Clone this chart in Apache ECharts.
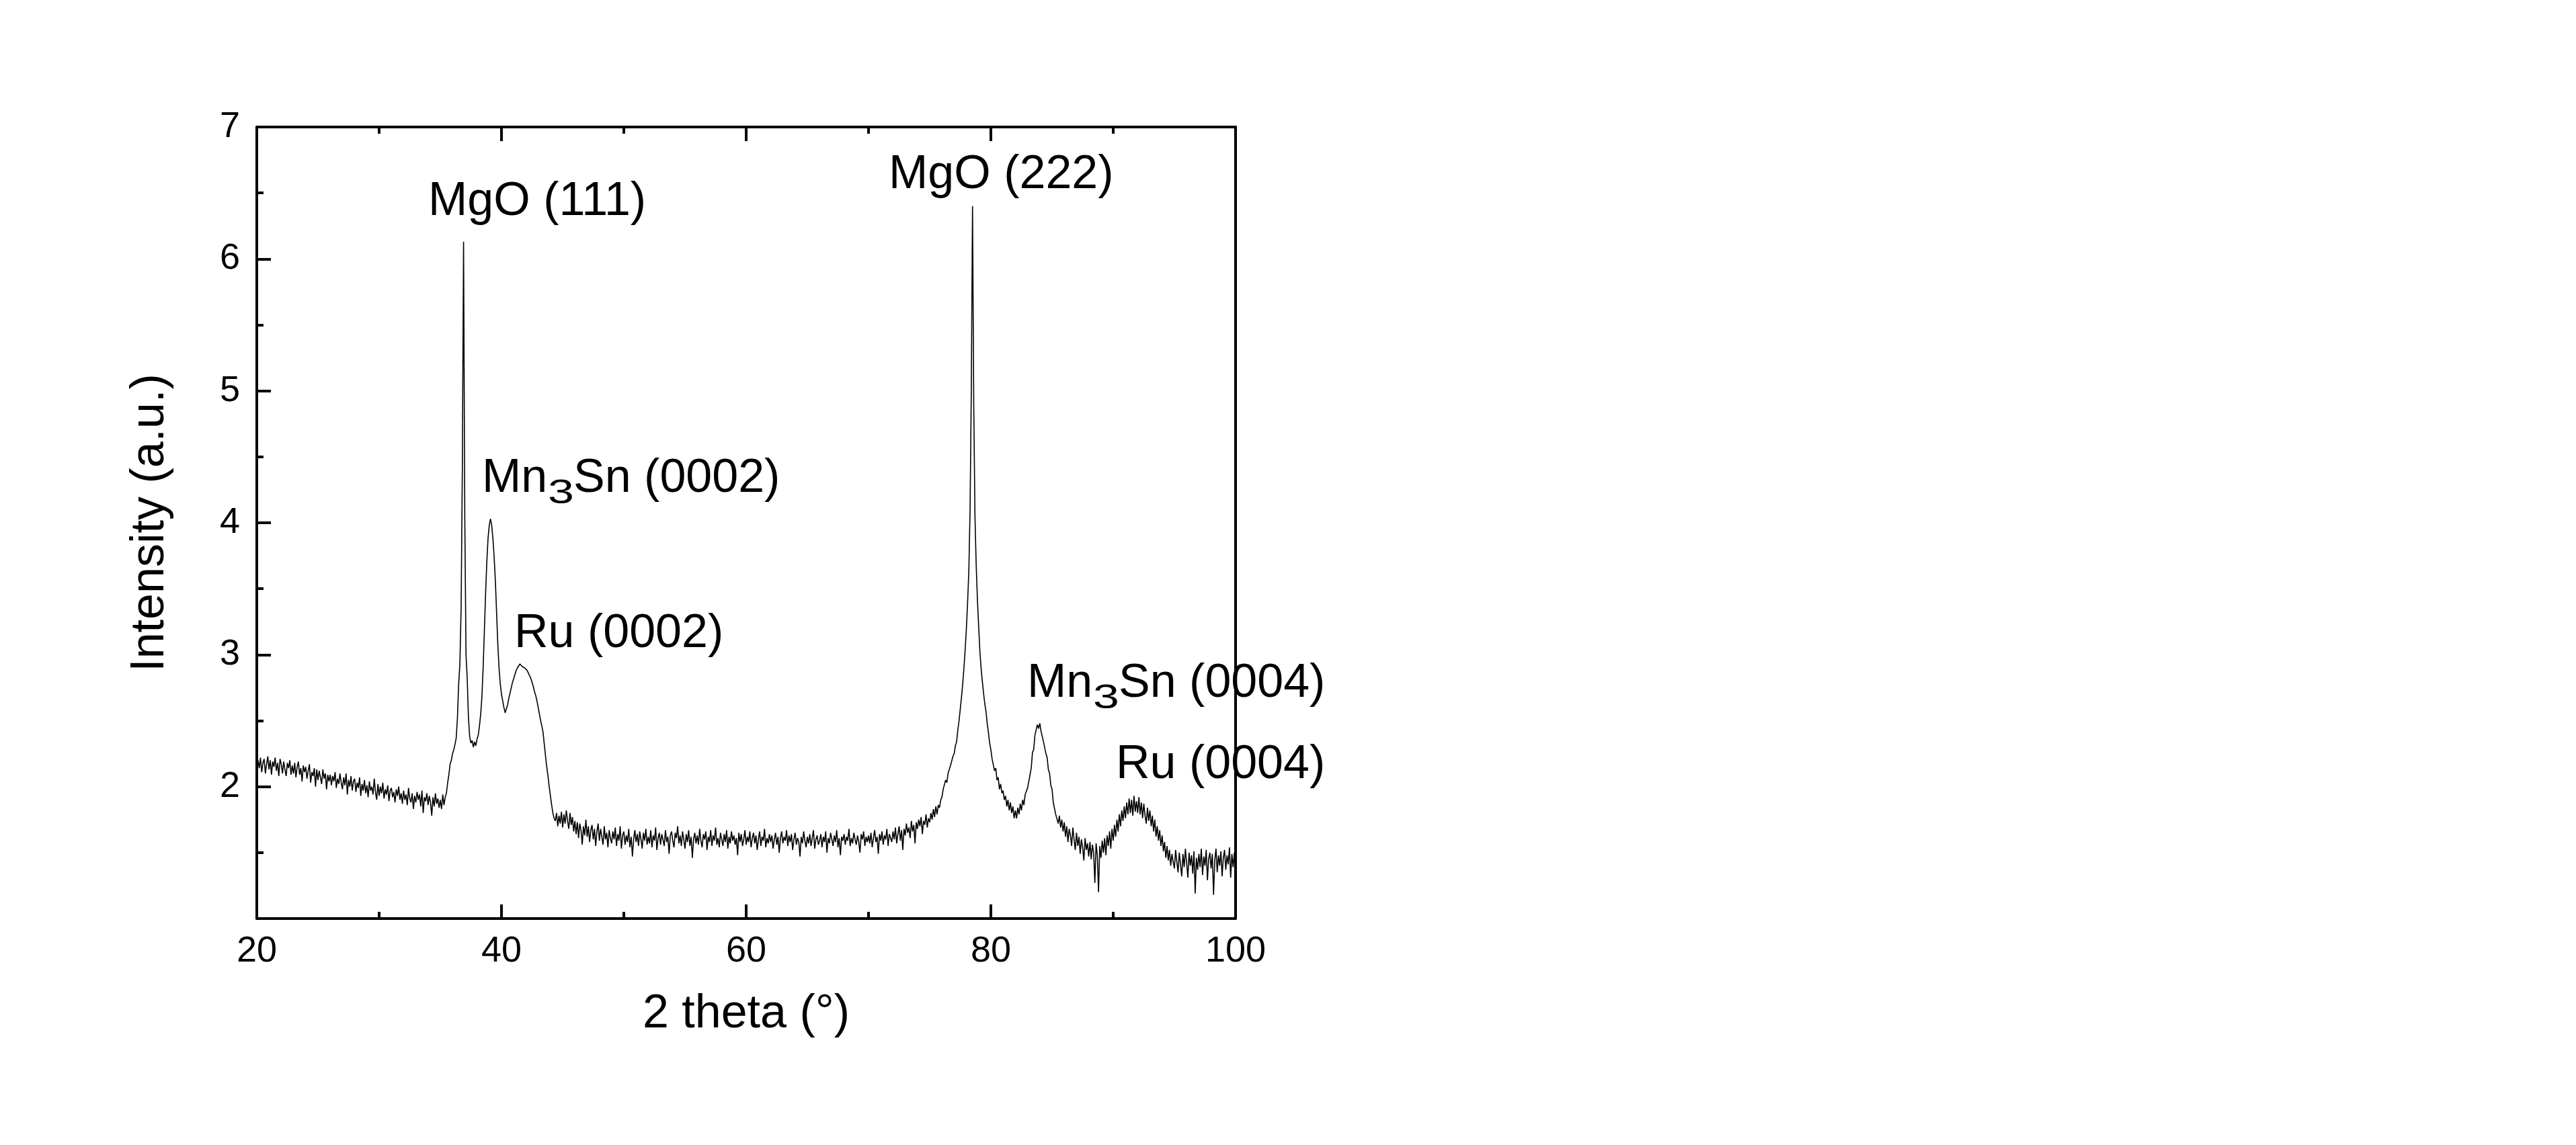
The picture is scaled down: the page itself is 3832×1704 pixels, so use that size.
<!DOCTYPE html>
<html>
<head>
<meta charset="utf-8">
<title>XRD scan</title>
<script src="https://cdn.jsdelivr.net/npm/echarts@6/dist/echarts.min.js"></script>
<style>
  html, body { margin: 0; padding: 0; background: #fff; }
  #chart { width: 3832px; height: 1704px; }
</style>
</head>
<body>
<div id="chart"></div>
<script>
// scan: 2 theta from 20 to 100 in 0.1 deg steps
const startAngle = 20
const angleStep = 0.1

// intensity (a.u.), one line per degree
const intensity = [
  2.12, 2.20, 2.14, 2.22, 2.11, 2.18, 2.21, 2.10, 2.17, 2.23, // 20
  2.13, 2.20, 2.09, 2.19, 2.15, 2.22, 2.12, 2.18, 2.08, 2.21, // 21
  2.17, 2.10, 2.19, 2.13, 2.08, 2.18, 2.14, 2.20, 2.09, 2.16, // 22
  2.10, 2.18, 2.07, 2.15, 2.19, 2.09, 2.14, 2.04, 2.16, 2.11, // 23
  2.15, 2.06, 2.12, 2.17, 2.03, 2.11, 2.08, 2.14, 2.00, 2.13, // 24
  2.05, 2.12, 2.07, 2.02, 2.13, 2.06, 2.10, 1.98, 2.09, 2.04, // 25
  2.09, 2.01, 2.08, 2.04, 2.11, 1.99, 2.06, 2.02, 2.10, 2.03, // 26
  1.98, 2.07, 2.01, 2.10, 1.94, 2.05, 2.00, 2.08, 1.97, 2.04, // 27
  2.06, 1.96, 2.03, 1.99, 2.07, 1.93, 2.02, 1.97, 2.05, 1.95, // 28
  2.01, 1.92, 2.04, 1.97, 2.00, 1.94, 2.06, 1.96, 1.90, 2.02, // 29
  1.93, 2.00, 1.95, 2.03, 1.91, 1.98, 1.94, 2.01, 1.89, 1.97, // 30
  1.99, 1.92, 1.96, 1.88, 1.98, 1.93, 2.00, 1.90, 1.95, 1.87, // 31
  1.97, 1.90, 1.94, 1.86, 1.99, 1.91, 1.88, 1.95, 1.83, 1.93, // 32
  1.88, 1.96, 1.90, 1.94, 1.85, 1.97, 1.80, 1.92, 1.89, 1.95, // 33
  1.86, 1.93, 1.88, 1.78, 1.92, 1.85, 1.95, 1.87, 1.91, 1.84, // 34
  1.90, 1.83, 1.94, 1.86, 1.92, 1.95, 2.03, 2.09, 2.17, 2.20, // 35
  2.25, 2.28, 2.32, 2.37, 2.52, 2.78, 2.93, 3.35, 4.40, 6.13, // 36
  4.05, 3.00, 2.82, 2.52, 2.38, 2.33, 2.35, 2.30, 2.34, 2.31, // 37
  2.36, 2.39, 2.46, 2.55, 2.68, 2.90, 3.18, 3.46, 3.70, 3.88, // 38
  3.98, 4.03, 3.98, 3.88, 3.74, 3.56, 3.32, 3.08, 2.90, 2.78, // 39
  2.70, 2.65, 2.60, 2.56, 2.59, 2.62, 2.67, 2.71, 2.75, 2.79, // 40
  2.82, 2.85, 2.88, 2.90, 2.91, 2.93, 2.92, 2.91, 2.92, 2.90, // 41
  2.89, 2.88, 2.86, 2.84, 2.82, 2.79, 2.76, 2.72, 2.69, 2.65, // 42
  2.60, 2.55, 2.50, 2.46, 2.41, 2.32, 2.23, 2.15, 2.08, 2.00, // 43
  1.93, 1.86, 1.80, 1.76, 1.74, 1.80, 1.70, 1.78, 1.72, 1.81, // 44
  1.69, 1.79, 1.72, 1.82, 1.74, 1.68, 1.80, 1.71, 1.77, 1.66, // 45
  1.74, 1.64, 1.73, 1.61, 1.72, 1.67, 1.56, 1.70, 1.63, 1.75, // 46
  1.62, 1.70, 1.58, 1.67, 1.71, 1.60, 1.68, 1.55, 1.66, 1.72, // 47
  1.59, 1.68, 1.62, 1.56, 1.70, 1.60, 1.65, 1.54, 1.67, 1.61, // 48
  1.57, 1.66, 1.60, 1.69, 1.55, 1.64, 1.59, 1.70, 1.53, 1.63, // 49
  1.66, 1.56, 1.63, 1.58, 1.68, 1.54, 1.62, 1.47, 1.60, 1.67, // 50
  1.58, 1.64, 1.55, 1.66, 1.60, 1.53, 1.65, 1.59, 1.68, 1.56, // 51
  1.62, 1.57, 1.67, 1.54, 1.63, 1.59, 1.69, 1.52, 1.61, 1.65, // 52
  1.56, 1.64, 1.60, 1.55, 1.67, 1.58, 1.62, 1.49, 1.63, 1.66, // 53
  1.59, 1.54, 1.65, 1.61, 1.70, 1.57, 1.63, 1.55, 1.66, 1.60, // 54
  1.53, 1.64, 1.58, 1.67, 1.55, 1.62, 1.46, 1.60, 1.65, 1.57, // 55
  1.63, 1.56, 1.68, 1.59, 1.54, 1.64, 1.60, 1.66, 1.52, 1.62, // 56
  1.58, 1.67, 1.55, 1.63, 1.59, 1.69, 1.56, 1.61, 1.54, 1.65, // 57
  1.60, 1.55, 1.64, 1.58, 1.67, 1.53, 1.62, 1.57, 1.66, 1.59, // 58
  1.63, 1.56, 1.61, 1.48, 1.65, 1.58, 1.64, 1.55, 1.60, 1.67, // 59
  1.56, 1.62, 1.58, 1.66, 1.54, 1.61, 1.65, 1.57, 1.63, 1.52, // 60
  1.60, 1.66, 1.55, 1.62, 1.59, 1.68, 1.54, 1.61, 1.57, 1.64, // 61
  1.58, 1.63, 1.53, 1.60, 1.65, 1.56, 1.62, 1.50, 1.61, 1.66, // 62
  1.57, 1.62, 1.59, 1.67, 1.55, 1.63, 1.58, 1.64, 1.52, 1.60, // 63
  1.65, 1.56, 1.61, 1.58, 1.47, 1.62, 1.57, 1.66, 1.59, 1.54, // 64
  1.62, 1.57, 1.64, 1.55, 1.61, 1.67, 1.53, 1.60, 1.63, 1.56, // 65
  1.59, 1.64, 1.54, 1.62, 1.58, 1.66, 1.50, 1.61, 1.57, 1.65, // 66
  1.60, 1.55, 1.63, 1.58, 1.67, 1.54, 1.61, 1.48, 1.62, 1.59, // 67
  1.64, 1.56, 1.62, 1.59, 1.68, 1.55, 1.61, 1.57, 1.65, 1.60, // 68
  1.56, 1.63, 1.58, 1.50, 1.64, 1.60, 1.66, 1.55, 1.62, 1.58, // 69
  1.63, 1.57, 1.65, 1.54, 1.61, 1.67, 1.58, 1.62, 1.49, 1.64, // 70
  1.59, 1.66, 1.56, 1.63, 1.60, 1.68, 1.55, 1.64, 1.61, 1.58, // 71
  1.66, 1.60, 1.69, 1.57, 1.64, 1.70, 1.59, 1.67, 1.52, 1.68, // 72
  1.63, 1.72, 1.65, 1.69, 1.61, 1.74, 1.66, 1.71, 1.57, 1.73, // 73
  1.68, 1.75, 1.70, 1.77, 1.64, 1.74, 1.71, 1.79, 1.69, 1.76, // 74
  1.73, 1.80, 1.75, 1.83, 1.77, 1.85, 1.79, 1.86, 1.84, 1.90, // 75
  1.92, 1.98, 1.97, 2.05, 2.03, 2.10, 2.09, 2.16, 2.17, 2.23, // 76
  2.25, 2.31, 2.34, 2.43, 2.50, 2.59, 2.68, 2.78, 2.90, 3.04, // 77
  3.20, 3.40, 3.64, 4.10, 5.00, 6.40, 4.90, 4.05, 3.68, 3.42, // 78
  3.22, 3.03, 2.90, 2.80, 2.71, 2.63, 2.57, 2.48, 2.41, 2.33, // 79
  2.28, 2.21, 2.20, 2.12, 2.14, 2.05, 2.07, 1.98, 2.02, 1.95, // 80
  1.97, 1.90, 1.93, 1.85, 1.90, 1.82, 1.88, 1.80, 1.85, 1.76, // 81
  1.82, 1.76, 1.84, 1.79, 1.87, 1.82, 1.90, 1.86, 1.94, 1.93, // 82
  1.99, 2.00, 2.09, 2.14, 2.26, 2.28, 2.39, 2.38, 2.47, 2.44, // 83
  2.48, 2.42, 2.43, 2.34, 2.33, 2.25, 2.22, 2.13, 2.10, 2.01, // 84
  1.98, 1.88, 1.87, 1.79, 1.80, 1.72, 1.78, 1.69, 1.75, 1.66, // 85
  1.73, 1.62, 1.70, 1.58, 1.68, 1.63, 1.55, 1.69, 1.60, 1.52, // 86
  1.65, 1.55, 1.62, 1.49, 1.60, 1.54, 1.44, 1.61, 1.52, 1.57, // 87
  1.47, 1.58, 1.45, 1.56, 1.50, 1.27, 1.57, 1.48, 1.20, 1.55, // 88
  1.46, 1.59, 1.50, 1.61, 1.48, 1.63, 1.55, 1.66, 1.53, 1.68, // 89
  1.59, 1.71, 1.62, 1.75, 1.66, 1.79, 1.70, 1.82, 1.74, 1.85, // 90
  1.76, 1.88, 1.79, 1.91, 1.80, 1.90, 1.78, 1.93, 1.81, 1.89, // 91
  1.80, 1.92, 1.79, 1.88, 1.76, 1.87, 1.78, 1.72, 1.84, 1.74, // 92
  1.82, 1.70, 1.78, 1.66, 1.75, 1.62, 1.70, 1.59, 1.67, 1.55, // 93
  1.63, 1.51, 1.58, 1.46, 1.55, 1.44, 1.52, 1.40, 1.49, 1.43, // 94
  1.38, 1.52, 1.43, 1.35, 1.50, 1.41, 1.32, 1.49, 1.39, 1.53, // 95
  1.42, 1.31, 1.50, 1.40, 1.48, 1.34, 1.51, 1.19, 1.46, 1.37, // 96
  1.49, 1.39, 1.53, 1.33, 1.47, 1.40, 1.52, 1.29, 1.45, 1.50, // 97
  1.38, 1.49, 1.18, 1.44, 1.53, 1.35, 1.48, 1.40, 1.51, 1.32, // 98
  1.46, 1.52, 1.37, 1.48, 1.41, 1.54, 1.31, 1.49, 1.39, 1.50, // 99
  1.42                                                          // 100
]

// axis ticks
const xTicks = [20, 40, 60, 80, 100]
const yTicks = [2, 3, 4, 5, 6, 7]

// peak labels
const peakNames = ['MgO (111)', 'Mn3Sn (0002)', 'Ru (0002)', 'MgO (222)', 'Mn3Sn (0004)', 'Ru (0004)']

const chart = echarts.init(document.getElementById('chart'), null, { renderer: 'canvas' })

const seriesData = intensity.map((v, i) => [Math.round((startAngle + i * angleStep) * 10) / 10, v])

const FONT = 'Liberation Sans'
const BIG = 70

// label anchor positions (left edge, vertical centre) in pixels
const labelPos = [
  [637, 301],
  [717, 713],
  [765, 944],
  [1322, 261],
  [1528, 1018],
  [1660, 1139]
]

function textEl (x, y, str, extra) {
  return Object.assign({
    type: 'text',
    x: x,
    y: y,
    silent: true,
    style: {
      text: str,
      fontFamily: FONT,
      fontSize: BIG,
      fill: '#000',
      align: 'left',
      textAlign: 'left',
      verticalAlign: 'middle',
      textVerticalAlign: 'middle'
    }
  }, extra || {})
}

const graphics = []
peakNames.forEach((name, k) => {
  const [x, y] = labelPos[k]
  if (name.indexOf('Mn3Sn') === 0) {
    // Mn, lowered 3, rest
    graphics.push(textEl(x, y, 'Mn'))
    graphics.push(textEl(x + 98, y + 22, '3', { scaleY: 0.72 }))
    graphics.push(textEl(x + 136, y, name.slice(3)))
  } else {
    graphics.push(textEl(x, y, name))
  }
})

const axisLine = { show: true, onZero: false, lineStyle: { color: '#000', width: 4 } }
const axisTick = { show: true, inside: true, length: 21, lineStyle: { color: '#000', width: 4 } }
const minorTick = { show: true, splitNumber: 2, length: 10, lineStyle: { color: '#000', width: 4 } }

const option = {
  animation: false,
  backgroundColor: '#fff',
  grid: { left: 382, right: 1994, top: 189, bottom: 337, containLabel: false },
  xAxis: [
    {
      type: 'value',
      min: xTicks[0],
      max: xTicks[xTicks.length - 1],
      interval: 20,
      name: '2 theta (°)',
      nameLocation: 'middle',
      nameGap: 108,
      nameTextStyle: { fontFamily: FONT, fontSize: 70, color: '#000' },
      axisLine: axisLine,
      axisTick: axisTick,
      minorTick: minorTick,
      splitLine: { show: false },
      axisLabel: {
        margin: 22,
        fontFamily: FONT,
        fontSize: 54,
        color: '#000',
        showMinLabel: true,
        showMaxLabel: true
      }
    },
    {
      type: 'value',
      position: 'top',
      min: xTicks[0],
      max: xTicks[xTicks.length - 1],
      interval: 20,
      axisLine: axisLine,
      axisTick: axisTick,
      minorTick: minorTick,
      splitLine: { show: false },
      axisLabel: { show: false }
    }
  ],
  yAxis: [
    {
      type: 'value',
      min: 1,
      max: yTicks[yTicks.length - 1],
      interval: 1,
      name: 'Intensity (a.u.)',
      nameLocation: 'middle',
      nameGap: 123,
      nameTextStyle: { fontFamily: FONT, fontSize: 70, color: '#000' },
      axisLine: axisLine,
      axisTick: axisTick,
      minorTick: minorTick,
      splitLine: { show: false },
      axisLabel: {
        margin: 25,
        fontFamily: FONT,
        fontSize: 54,
        color: '#000',
        formatter: v => (yTicks.indexOf(v) >= 0 ? String(v) : '')
      }
    },
    {
      type: 'value',
      position: 'right',
      min: 1,
      max: yTicks[yTicks.length - 1],
      interval: 1,
      axisLine: axisLine,
      axisTick: { show: false },
      splitLine: { show: false },
      axisLabel: { show: false }
    }
  ],
  series: [
    {
      type: 'line',
      data: seriesData,
      showSymbol: false,
      symbol: 'none',
      sampling: false,
      lineStyle: { color: '#000', width: 1.6 },
      z: 1
    }
  ],
  graphic: graphics
}

chart.setOption(option)
</script>
</body>
</html>
